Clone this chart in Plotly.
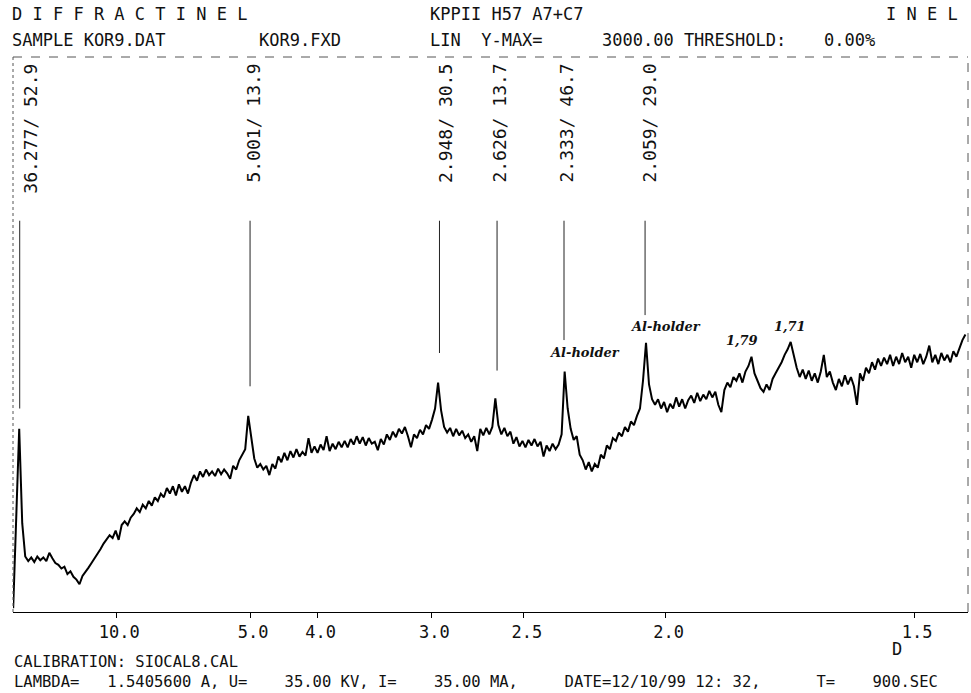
import numpy as np
import plotly.graph_objects as go

# ---------------- data ----------------
WAVELENGTH = 1.54056          # Angstrom (Cu K-alpha)
two_theta_start = 2.0         # degrees, measurement grid start
two_theta_step = 0.2          # degrees, measurement grid step

counts = [
    20, 560, 990, 480, 300, 275, 295, 270, 300, 280,
    295, 275, 320, 290, 265, 255, 235, 245, 205, 220,
    190, 175, 150, 195, 215, 240, 265, 290, 310, 340,
    370, 390, 415, 400, 440, 390, 470, 490, 470, 510,
    530, 560, 540, 580, 560, 600, 575, 620, 600, 640,
    620, 670, 640, 680, 630, 690, 650, 680, 640, 700,
    740, 710, 760, 730, 770, 740, 760, 735, 775, 745,
    770, 750, 720, 790, 770, 820, 850, 880, 1060, 930,
    830, 780, 800, 770, 790, 740, 800, 775, 840, 810,
    860, 820, 870, 835, 880, 840, 865, 845, 940, 860,
    895, 860, 905, 875, 950, 870, 910, 880, 920, 890,
    925, 890, 935, 905, 950, 910, 945, 900, 940, 910,
    920, 875, 935, 905, 960, 930, 975, 945, 990, 965,
    1000, 950, 890, 960, 940, 985, 960, 1010, 990, 1040,
    1100, 1240, 1090, 1000, 970, 995, 950, 990, 955, 980,
    940, 960, 920, 950, 870, 990, 955, 995, 960, 1000,
    1155, 1010, 960, 995, 950, 975, 910, 945, 895, 925,
    890, 930, 900, 935, 895, 920, 840, 900, 870, 910,
    880, 905, 960, 1300, 1100, 990, 930, 950, 850, 820,
    770, 810, 760, 800, 780, 850, 830, 900, 880, 940,
    925, 970, 950, 1000, 975, 1030, 1010, 1060, 1100, 1250,
    1455, 1230, 1150, 1120, 1150, 1100, 1135, 1080, 1125, 1100,
    1160, 1110, 1150, 1100, 1145, 1170, 1130, 1185, 1140, 1175,
    1150, 1195, 1160, 1190, 1120, 1080, 1200, 1240, 1215, 1270,
    1250, 1290, 1240, 1300, 1330, 1380, 1290, 1250, 1210, 1190,
    1230, 1200, 1260, 1290, 1320, 1350, 1390, 1420, 1460, 1380,
    1320, 1270, 1310, 1260, 1305, 1250, 1290, 1240, 1300, 1390,
    1270, 1300, 1240, 1200, 1260, 1220, 1280, 1230, 1270, 1220,
    1120, 1290, 1250, 1320, 1290, 1350, 1310, 1370, 1330, 1375,
    1340, 1390, 1330, 1380, 1340, 1400, 1350, 1380, 1320, 1390,
    1350, 1395, 1340, 1380, 1440, 1350, 1390, 1340, 1400, 1360,
    1390, 1350, 1410, 1380, 1430, 1470, 1500,
]

peak_d = [36.277, 5.001, 2.948, 2.626, 2.333, 2.059]
peak_rel_int = [52.9, 13.9, 30.5, 13.7, 46.7, 29.0]
peak_marker_bottom = [1100, 1220, 1400, 1305, 1470, 1605]

tick_d = [10.0, 5.0, 4.0, 3.0, 2.5, 2.0, 1.5]
tick_labels = ["10.0", "5.0", "4.0", "3.0", "2.5", "2.0", "1.5"]

note_texts = ["Al-holder", "Al-holder", "1,79", "1,71"]

y_max = 3000.0

# ---------------- helpers ----------------
def d_to_tth(d):
    return 2.0 * np.degrees(np.arcsin(WAVELENGTH / (2.0 * np.asarray(d, dtype=float))))

two_theta = two_theta_start + two_theta_step * np.arange(len(counts))

# plot-area pixel box (page 971 x 693)
L, R, T, B = 13, 968, 57, 612

def P(px, py):
    return (px - L) / (R - L), (B - py) / (B - T)

MONO = "DejaVu Sans Mono"
FS = 17

fig = go.Figure()
fig.add_trace(go.Scatter(x=two_theta, y=counts, mode="lines",
                         line=dict(color="black", width=2),
                         hoverinfo="skip", showlegend=False))

shapes = []
annotations = []

# peak markers and labels
marker_top = 2115
label_xshift = [10, 3, 6, 2, 2, 4]
for d, r, yb, xs in zip(peak_d, peak_rel_int, peak_marker_bottom, label_xshift):
    tx = float(d_to_tth(d))
    shapes.append(dict(type="line", xref="x", yref="y", x0=tx, x1=tx, y0=yb, y1=marker_top,
                       line=dict(color="#222", width=1)))
    annotations.append(dict(x=tx, y=P(0, 62)[1], xref="x", yref="paper",
                            text=f"{d:.3f}/ {r:.1f}", textangle=-90, showarrow=False,
                            xanchor="center", yanchor="top", xshift=xs,
                            font=dict(family=MONO, size=18, color="#111")))

# frame (dotted left/top/right)
for (x0, y0, x1, y1, dsh) in [(0, 0, 0, 1, "dot"), (0, 1, 1, 1, "dash"), (1, 0, 1, 1, "dash")]:
    shapes.append(dict(type="line", xref="paper", yref="paper", x0=x0, y0=y0, x1=x1, y1=y1,
                       line=dict(color="#555", width=1, dash=dsh)))

def text_at(txt, px, py, anchor="left", size=FS, font=MONO, **kw):
    x, y = P(px, py)
    annotations.append(dict(x=x, y=y, xref="paper", yref="paper", text=txt, showarrow=False,
                            xanchor=anchor, yanchor="middle",
                            font=dict(family=font, size=size, color="#111", **kw)))

# header
text_at("D I F F R A C T I N E L", 10, 14)
text_at("KPPII H57 A7+C7", 428, 14)
text_at("I N E L", 884, 14)
text_at("SAMPLE KOR9.DAT", 10, 40)
text_at("KOR9.FXD", 257, 40)
text_at("LIN  Y-MAX=", 428, 40)
text_at("3000.00 THRESHOLD:", 600, 40)
text_at("0.00%", 822, 40)

# footer
text_at("D", 897, 649, anchor="center")
text_at("CALIBRATION: SIOCAL8.CAL", 12, 662, size=15.5)
text_at("LAMBDA=   1.5405600 A, U=    35.00 KV, I=    35.00 MA,     DATE=12/10/99 12: 32,      T=    900.SEC",
        12, 682, size=15.5)

# handwritten notes
note_pos = [(584, 352), (665, 326), (742, 340), (790, 326)]
for txt, (px, py) in zip(note_texts, note_pos):
    text_at(txt, px, py, anchor="center", size=13, font="DejaVu Serif",
            weight="bold", style="italic")

fig.update_layout(
    width=971, height=693,
    margin=dict(l=L, r=971 - R, t=T, b=693 - B, pad=0),
    paper_bgcolor="white", plot_bgcolor="white",
    shapes=shapes, annotations=annotations,
    xaxis=dict(range=[1.988, 65.37], tickmode="array",
               tickvals=list(d_to_tth(tick_d)), ticktext=tick_labels,
               ticks="outside", ticklen=5, tickcolor="black", tickwidth=1,
               ticklabelshift=3,
               showline=True, linecolor="black", linewidth=1, mirror=False,
               showgrid=False, zeroline=False,
               tickfont=dict(family=MONO, size=FS, color="#111")),
    yaxis=dict(range=[0, y_max], visible=False, showgrid=False, zeroline=False),
)

fig.write_html("out.html", config={"displayModeBar": False},
               post_script="document.body.style.margin='0';")
